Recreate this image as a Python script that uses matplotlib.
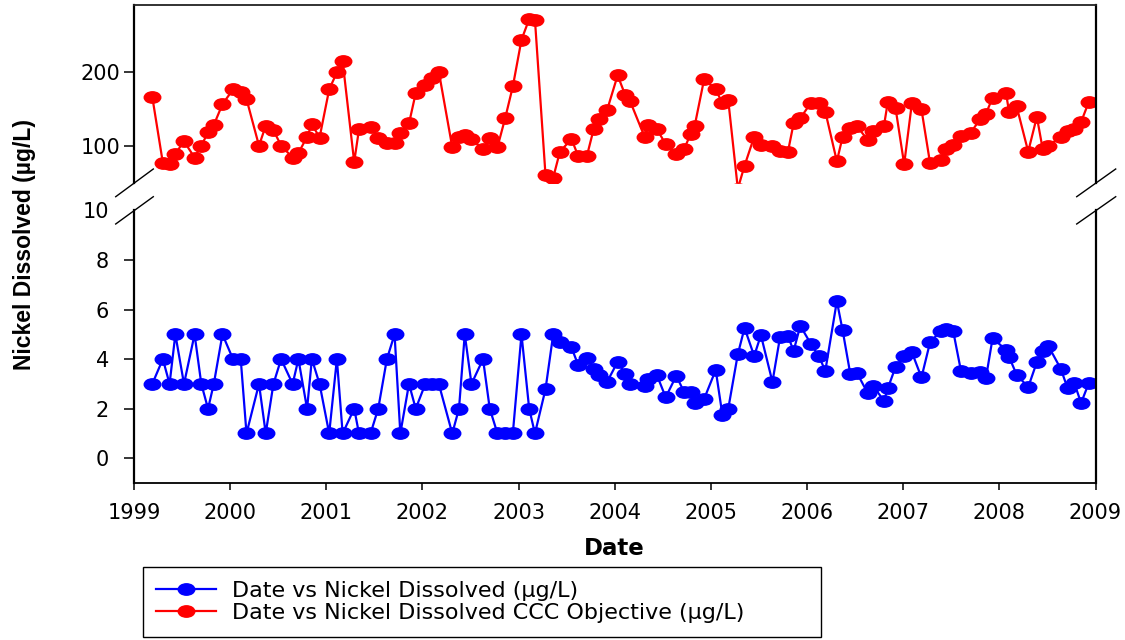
import matplotlib
matplotlib.use("Agg")
import matplotlib.pyplot as plt
from matplotlib import font_manager
from matplotlib.lines import Line2D
from matplotlib.markers import MarkerStyle
from matplotlib.transforms import Affine2D

# sample dates as decimal years
dates = [1999.19, 1999.30, 1999.37, 1999.43, 1999.52, 1999.63, 1999.70, 1999.77, 1999.83, 1999.92,
         2000.03, 2000.11, 2000.17, 2000.30, 2000.37, 2000.45, 2000.53, 2000.65, 2000.71, 2000.80,
         2000.85, 2000.93, 2001.03, 2001.11, 2001.17, 2001.29, 2001.34, 2001.46, 2001.54, 2001.63,
         2001.71, 2001.77, 2001.86, 2001.93, 2002.03, 2002.10, 2002.17, 2002.31, 2002.38, 2002.44,
         2002.51, 2002.63, 2002.70, 2002.78, 2002.86, 2002.94, 2003.03, 2003.11, 2003.17, 2003.28,
         2003.36, 2003.43, 2003.55, 2003.62, 2003.71, 2003.78, 2003.84, 2003.92, 2004.03, 2004.11,
         2004.16, 2004.31, 2004.35, 2004.44, 2004.53, 2004.64, 2004.72, 2004.79, 2004.83, 2004.93,
         2005.05, 2005.12, 2005.18, 2005.28, 2005.35, 2005.45, 2005.52, 2005.64, 2005.72, 2005.80,
         2005.86, 2005.93, 2006.04, 2006.12, 2006.19, 2006.31, 2006.37, 2006.45, 2006.52, 2006.63,
         2006.69, 2006.80, 2006.84, 2006.92, 2007.01, 2007.09, 2007.19, 2007.28, 2007.39, 2007.45,
         2007.52, 2007.60, 2007.70, 2007.80, 2007.86, 2007.93, 2008.07, 2008.10, 2008.18, 2008.30,
         2008.39, 2008.45, 2008.51, 2008.64, 2008.71, 2008.78, 2008.85, 2008.93]

nickel = [3, 4, 3, 5, 3, 5, 3, 2, 3, 5,
          4, 4, 1, 3, 1, 3, 4, 3, 4, 2,
          4, 3, 1, 4, 1, 2, 1, 1, 2, 4,
          5, 1, 3, 2, 3, 3, 3, 1, 2, 5,
          3, 4, 2, 1, 1, 1, 5, 2, 1, 2.79,
          5, 4.70, 4.47, 3.76, 4.05, 3.62, 3.35, 3.08, 3.89, 3.40,
          2.99, 2.91, 3.18, 3.34, 2.46, 3.33, 2.68, 2.68, 2.24, 2.40,
          3.56, 1.74, 1.99, 4.20, 5.26, 4.13, 4.97, 3.08, 4.91, 4.95,
          4.33, 5.35, 4.61, 4.14, 3.53, 6.34, 5.16, 3.40, 3.44, 2.63,
          2.90, 2.32, 2.82, 3.68, 4.13, 4.28, 3.26, 4.69, 5.13, 5.20,
          5.13, 3.54, 3.46, 3.50, 3.23, 4.85, 4.37, 4.10, 3.37, 2.87,
          3.88, 4.33, 4.53, 3.60, 2.82, 3.03, 2.23, 3.03]

ccc = [166, 77, 75, 89, 106, 84, 100, 118, 128, 156,
       176, 173, 163, 100, 127, 121, 100, 84, 90, 112,
       129, 111, 176, 199, 214, 78, 122, 125, 111, 104,
       103, 117, 130, 171, 182, 191, 200, 98, 112, 114,
       109, 95, 111, 98, 137, 180, 243, 271, 270, 60,
       57, 92, 109, 86, 86, 122, 136, 148, 195, 168,
       160, 112, 128, 122, 102, 89, 95, 116, 126, 190,
       176, 157, 162, 42, 73, 112, 101, 100, 93, 91,
       130, 137, 158, 158, 146, 79, 112, 124, 126, 108,
       120, 127, 159, 151, 75, 157, 149, 76, 81, 96,
       101, 113, 117, 136, 143, 165, 171, 146, 153, 92,
       139, 96, 100, 112, 120, 122, 132, 159]

year_ticks = list(range(1999, 2010))
low_ticks = [0, 2, 4, 6, 8, 10]
high_ticks = [100, 200]

plt.rcParams['font.family'] = 'DejaVu Sans'

W, H = 1125, 640
fig = plt.figure(figsize=(W / 100, H / 100), dpi=100)

def fx(px):
    return px / W

def fy(py):
    return 1 - py / H

x0, x1 = 134, 1095.5
ax_hi = fig.add_axes([fx(x0), fy(182.5), fx(x1) - fx(x0), fy(5) - fy(182.5)])
ax_lo = fig.add_axes([fx(x0), fy(483), fx(x1) - fx(x0), fy(210.5) - fy(483)])

#stretched-looking round markers like the original
ell = MarkerStyle('o', transform=Affine2D().scale(1.45, 1.0))
mk = dict(marker=ell, markersize=8.2, linewidth=1.6)

ax_hi.plot(dates, ccc, color='#ff0000', markeredgecolor='#ff0000', **mk)
ax_lo.plot(dates, nickel, color='#0000ff', markeredgecolor='#0000ff', **mk)

for ax in (ax_hi, ax_lo):
    ax.set_xlim(1999, 2009)
    ax.spines['left'].set_linewidth(1.6)
    ax.spines['right'].set_linewidth(1.6)
    ax.tick_params(axis='y', direction='out', length=7, width=1.1, labelsize=15)

ax_hi.set_ylim(50.3, 290)
ax_hi.set_yticks(high_ticks)
ax_hi.tick_params(axis='y', pad=3)
ax_hi.spines['bottom'].set_visible(False)
ax_hi.spines['top'].set_linewidth(1.3)
ax_hi.spines['top'].set_color('#222222')
ax_hi.tick_params(axis='x', bottom=False, labelbottom=False)

ax_lo.set_ylim(-1, 10)
ax_lo.set_yticks(low_ticks)
ax_lo.tick_params(axis='y', pad=11)
ax_lo.yaxis.get_major_ticks()[-1].tick1line.set_visible(False)
ax_lo.spines['top'].set_visible(False)
ax_lo.spines['bottom'].set_linewidth(1.3)
ax_lo.set_xticks(year_ticks)
ax_lo.tick_params(axis='x', direction='out', length=5, width=1.1, labelsize=15, pad=9.5)
ax_lo.set_xlabel('Date', fontsize=16.5, fontweight='bold', labelpad=10)

# break marks
for xa, xb in ((115.7, 153.3), (1076.7, 1115.7)):
    for ya, yb in ((196.7, 169), (224, 196.7)):
        fig.add_artist(Line2D([fx(xa), fx(xb)], [fy(ya), fy(yb)], color='black', lw=1.0))

try:
    font_manager.findfont('Liberation Sans Narrow', fallback_to_default=False)
    yfam, ysize = 'Liberation Sans Narrow', 19.5
except ValueError:
    yfam, ysize = 'Liberation Sans', 16.5
fig.text(fx(25), fy(244), 'Nickel Dissolved (\u00b5g/L)', rotation=90, ha='center', va='center',
         family=yfam, fontsize=ysize, fontweight='bold')

handles = [Line2D([], [], color='#0000ff', markeredgecolor='#0000ff', **mk),
           Line2D([], [], color='#ff0000', markeredgecolor='#ff0000', **mk)]
labels = ['Date vs Nickel Dissolved (\u00b5g/L)', 'Date vs Nickel Dissolved CCC Objective (\u00b5g/L)']
leg = fig.legend(handles, labels, loc='upper left',
                 bbox_to_anchor=(fx(142.7), fy(567.7), fx(821) - fx(142.7), 0.001),
                 mode='expand', fontsize=16, frameon=True, fancybox=False, edgecolor='black',
                 framealpha=1, borderpad=0.62, handlelength=2.7, handletextpad=0.7,
                 labelspacing=0.1, numpoints=1, borderaxespad=0)
leg.get_frame().set_linewidth(1.0)

fig.savefig('out.png', dpi=100)
